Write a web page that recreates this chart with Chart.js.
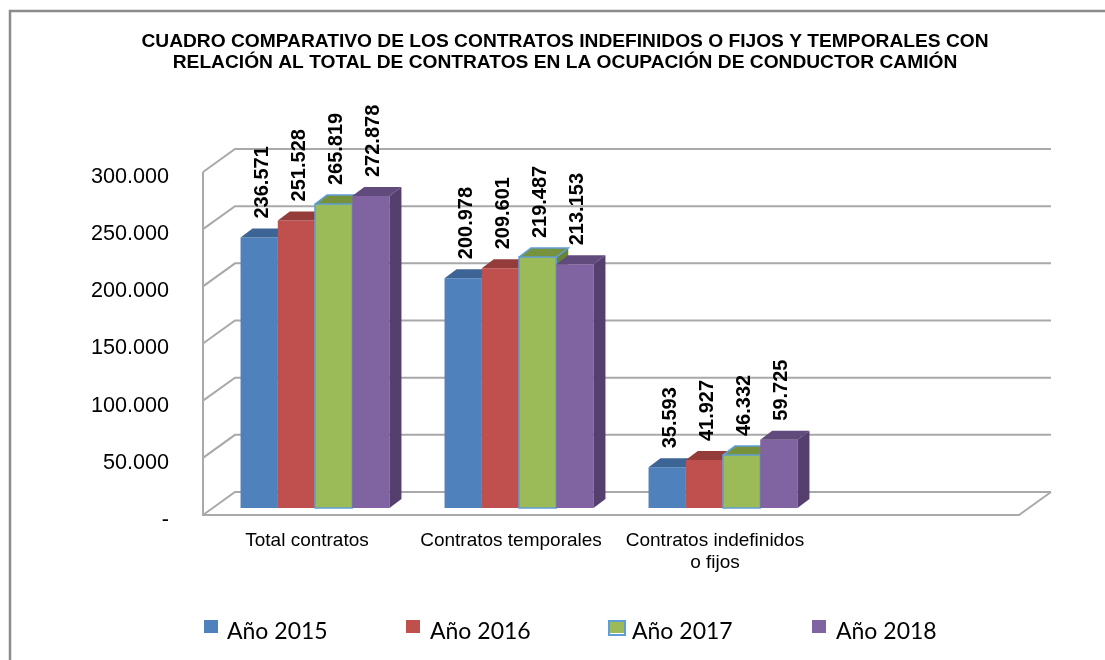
<!DOCTYPE html>
<html>
<head>
<meta charset="utf-8">
<title>Contratos conductor camión</title>
<script src="https://cdn.jsdelivr.net/npm/chart.js@4"></script>
<style>
html, body { margin: 0; padding: 0; background: #fff; }
#wrap { position: relative; width: 1105px; height: 660px; }
canvas { display: block; }
</style>
</head>
<body>
<div id="wrap"><canvas id="contratosChart" width="1105" height="660"></canvas></div>
<script>
const categories = ['Total contratos', 'Contratos temporales', ['Contratos indefinidos', 'o fijos'], ''];
const serie2015 = [236571, 200978, 35593, null];
const serie2016 = [251528, 209601, 41927, null];
const serie2017 = [265819, 219487, 46332, null];
const serie2018 = [272878, 213153, 59725, null];
const seriesNames = ['Año 2015', 'Año 2016', 'Año 2017', 'Año 2018'];
const yTicks = [0, 50000, 100000, 150000, 200000, 250000, 300000];
const titleLines = [
    'CUADRO COMPARATIVO DE LOS CONTRATOS INDEFINIDOS O FIJOS Y TEMPORALES CON',
    'RELACIÓN AL TOTAL DE CONTRATOS EN LA OCUPACIÓN DE CONDUCTOR CAMIÓN'
];

// front, top and side colours of each series
const frontColors = ['#4f81bd', '#c0504d', '#9bbb59', '#8064a2'];
const topColors = ['#3c6494', '#943c3a', '#76923c', '#614b7d'];
const sideColors = ['#355a86', '#843634', '#6a8436', '#553f6e'];
const gridColor = '#a9a9a9';
const outlineColor = '#5f9fd6';
const sansFont = '"Liberation Sans", Arial, sans-serif';

// depth of the fake 3D box, in pixels
const wallDepth = { x: 32, y: 23 };
const barShift = { x: 10, y: 7 };
const barDepth = { x: 12, y: 9 };

function formatNumber(v) {
    if (v === 0) return '-';
    return String(v).replace(/\B(?=(\d{3})+$)/g, '.');
}

function poly(ctx, pts, fill) {
    ctx.beginPath();
    ctx.moveTo(pts[0][0], pts[0][1]);
    for (let i = 1; i < pts.length; i++) ctx.lineTo(pts[i][0], pts[i][1]);
    ctx.closePath();
    ctx.fillStyle = fill;
    ctx.fill();
}

// walls and floor behind the bars
const wallsPlugin = {
    id: 'walls',
    beforeDatasetsDraw(chart) {
        const ctx = chart.ctx;
        const area = chart.chartArea;
        const y = chart.scales.y;
        ctx.save();
        ctx.strokeStyle = gridColor;
        ctx.lineWidth = 2;
        ctx.beginPath();
        yTicks.forEach(function(t) {
            const py = y.getPixelForValue(t);
            ctx.moveTo(area.left, py);
            ctx.lineTo(area.left + wallDepth.x, py - wallDepth.y);
            ctx.lineTo(area.right + wallDepth.x, py - wallDepth.y);
        });
        ctx.moveTo(area.left, y.getPixelForValue(300000));
        ctx.lineTo(area.left, area.bottom);
        ctx.lineTo(area.right, area.bottom);
        ctx.lineTo(area.right + wallDepth.x, area.bottom - wallDepth.y);
        ctx.stroke();
        ctx.restore();
    }
};

// draws the bars left to right, shifted into the box, with top and side faces
const bars3dPlugin = {
    id: 'bars3d',
    beforeDatasetDraw() {
        return false;
    },
    afterDatasetsDraw(chart) {
        const ctx = chart.ctx;
        ctx.save();
        ctx.translate(barShift.x, -barShift.y);
        seriesNames.forEach(function(name, i) {
            chart.getDatasetMeta(i).data.forEach(function(bar, k) {
                if (chart.data.datasets[i].data[k] === null) return;
                const p = bar.getProps(['x', 'y', 'base', 'width'], true);
                const l = p.x - p.width / 2;
                const r = p.x + p.width / 2;
                bar.draw(ctx);
                poly(ctx, [[l, p.y], [l + barDepth.x, p.y - barDepth.y], [r + barDepth.x, p.y - barDepth.y], [r, p.y]], topColors[i]);
                poly(ctx, [[r, p.y], [r + barDepth.x, p.y - barDepth.y], [r + barDepth.x, p.base - barDepth.y], [r, p.base]], sideColors[i]);
                if (i === 2) {
                    // the 2017 series is outlined in the original
                    ctx.strokeStyle = outlineColor;
                    ctx.lineWidth = 1.5;
                    ctx.strokeRect(l, p.y, p.width, p.base - p.y);
                    ctx.beginPath();
                    ctx.moveTo(l, p.y);
                    ctx.lineTo(l + barDepth.x, p.y - barDepth.y);
                    ctx.lineTo(r + barDepth.x, p.y - barDepth.y);
                    ctx.lineTo(r, p.y);
                    ctx.stroke();
                }
            });
        });
        ctx.restore();

        // value labels, rotated
        ctx.save();
        ctx.fillStyle = '#000';
        ctx.font = 'bold 20px ' + sansFont;
        ctx.textAlign = 'left';
        ctx.textBaseline = 'middle';
        seriesNames.forEach(function(name, i) {
            chart.getDatasetMeta(i).data.forEach(function(bar, k) {
                const v = chart.data.datasets[i].data[k];
                if (v === null) return;
                const p = bar.getProps(['x', 'y'], true);
                ctx.save();
                ctx.translate(p.x + barShift.x + 3, p.y - barShift.y - 19);
                ctx.rotate(-Math.PI / 2);
                ctx.fillText(formatNumber(v), 0, 0);
                ctx.restore();
            });
        });
        ctx.restore();
    }
};

// frame, title and legend row
const framePlugin = {
    id: 'frame',
    beforeDraw(chart) {
        const ctx = chart.ctx;
        ctx.save();
        ctx.strokeStyle = '#8c8c8c';
        ctx.lineWidth = 2.5;
        ctx.beginPath();
        ctx.moveTo(10, 660);
        ctx.lineTo(10, 11);
        ctx.lineTo(1105, 11);
        ctx.stroke();
        ctx.restore();
    },
    afterDraw(chart) {
        const ctx = chart.ctx;
        ctx.save();
        ctx.fillStyle = '#000';
        ctx.font = 'bold 19.2px ' + sansFont;
        ctx.textAlign = 'center';
        ctx.textBaseline = 'middle';
        ctx.fillText(titleLines[0], 565, 42);
        ctx.fillText(titleLines[1], 565, 63);

        const boxX = [204, 406, 610, 812];
        const textX = [227, 430, 632, 836];
        ctx.font = '23px Lato, "Noto Sans", sans-serif';
        ctx.textAlign = 'left';
        seriesNames.forEach(function(name, i) {
            ctx.fillStyle = frontColors[i];
            ctx.fillRect(boxX[i], 620, 14, 13);
            if (i === 2) {
                ctx.strokeStyle = outlineColor;
                ctx.lineWidth = 2;
                ctx.strokeRect(boxX[i] - 1, 621, 16, 14);
            }
            ctx.fillStyle = '#000';
            ctx.fillText(name, textX[i], 632);
        });
        ctx.restore();
    }
};

const seriesValues = [serie2015, serie2016, serie2017, serie2018];

new Chart(document.getElementById('contratosChart').getContext('2d'), {
    type: 'bar',
    data: {
        labels: categories,
        datasets: seriesNames.map(function(name, i) {
            return {
                label: name,
                data: seriesValues[i],
                backgroundColor: frontColors[i]
            };
        })
    },
    options: {
        responsive: false,
        animation: false,
        layout: { padding: { left: 13, right: 86, top: 172, bottom: 0 } },
        datasets: { bar: { barPercentage: 1, categoryPercentage: 0.73 } },
        plugins: {
            legend: { display: false },
            tooltip: { enabled: false },
            title: { display: false }
        },
        scales: {
            x: {
                grid: { display: false, drawTicks: false },
                border: { display: false },
                ticks: {
                    color: '#000',
                    maxRotation: 0,
                    autoSkip: false,
                    padding: 14,
                    labelOffset: 2,
                    font: { family: sansFont, size: 19 }
                },
                afterFit: function(scale) { scale.height = 145; }
            },
            y: {
                min: 0,
                max: 300000,
                grid: { display: false, drawTicks: false },
                border: { display: false },
                afterBuildTicks: function(scale) {
                    scale.ticks = yTicks.map(function(v) { return { value: v }; });
                },
                ticks: {
                    color: '#000',
                    padding: 34,
                    labelOffset: 5,
                    font: { family: sansFont, size: 21.6 },
                    callback: function(v) { return formatNumber(v); }
                },
                afterFit: function(scale) { scale.width = 190; }
            }
        }
    },
    plugins: [wallsPlugin, bars3dPlugin, framePlugin]
});
</script>
</body>
</html>
